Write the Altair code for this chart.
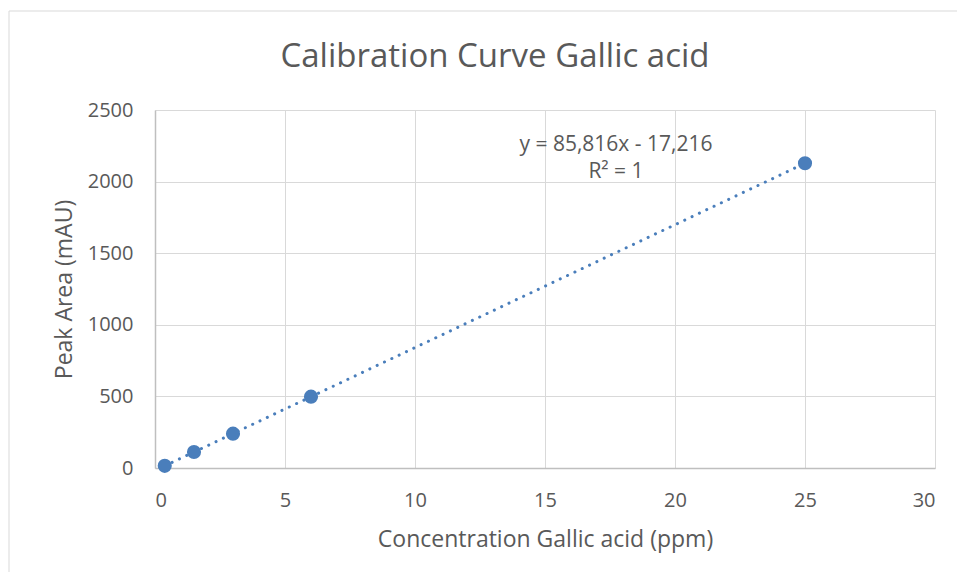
import altair as alt
import pandas as pd

conc = [0.375, 1.5, 3, 6, 25]
area = [15, 112, 240, 498, 2128]

eq_lines = ["y = 85,816x - 17,216", "R² = 1"]
eq_x = [17.73, 17.73]
eq_y = [2256, 2066]

df = pd.DataFrame({"conc": conc, "area": area})
eq_df = pd.DataFrame({"label": eq_lines, "x": eq_x, "y": eq_y})

FONT = "Open Sans"
TXT = "#595959"
BLUE = "#4a7ebb"

xs = alt.Scale(domain=[0, 30], nice=False)
ys = alt.Scale(domain=[0, 2500], nice=False)

base = alt.Chart(df)

points = base.mark_circle(size=200, color=BLUE, opacity=1).encode(
    x=alt.X("conc:Q", scale=xs, axis=alt.Axis(
        title="Concentration Gallic acid (ppm)", values=[0, 5, 10, 15, 20, 25, 30],
        format="d", grid=True, ticks=False, labelPadding=22, titlePadding=18)),
    y=alt.Y("area:Q", scale=ys, axis=alt.Axis(
        title="Peak Area (mAU)", values=[0, 500, 1000, 1500, 2000, 2500],
        format="d", grid=True, ticks=False, labelPadding=22, titlePadding=11)),
)

trend = base.transform_regression(
    "conc", "area", method="linear", extent=[0.375, 25]
).mark_line(color=BLUE, strokeWidth=3, strokeDash=[0.1, 8], strokeCap="round").encode(
    x=alt.X("conc:Q", scale=xs), y=alt.Y("area:Q", scale=ys)
)

eq = alt.Chart(eq_df).mark_text(font=FONT, fontSize=21, color=TXT, align="center", baseline="middle").encode(
    x=alt.X("x:Q", scale=xs), y=alt.Y("y:Q", scale=ys), text="label:N"
)

title = alt.Chart(pd.DataFrame({"t": ["Calibration Curve Gallic acid"]})).mark_text(
    font=FONT, fontSize=33, color=TXT, align="center", baseline="alphabetic"
).encode(x=alt.value(340), y=alt.value(-43), text="t:N")

border_df = pd.DataFrame({"k": [1]})
border_left = alt.Chart(border_df).mark_rule(color="#d9d9d9", strokeWidth=1).encode(
    x=alt.value(-146), y=alt.value(-99), y2=alt.value(470))
border_top = alt.Chart(border_df).mark_rule(color="#d9d9d9", strokeWidth=1).encode(
    x=alt.value(-146), x2=alt.value(810), y=alt.value(-99))

chart = alt.layer(border_left, border_top, title, trend, points, eq).properties(
    width=780, height=358,
    autosize=alt.AutoSizeParams(type="none"),
    padding={"left": 147, "top": 102, "right": 22, "bottom": 104},
).configure_view(stroke=None).configure_axis(
    labelFont=FONT, titleFont=FONT, labelColor=TXT, titleColor=TXT,
    labelFontSize=20, titleFontSize=23, titleFontWeight="normal",
    gridColor="#d9d9d9", gridWidth=1, domainColor="#bfbfbf", domainWidth=1.5,
)

chart.save("out.html", embed_options={"renderer": "svg", "actions": False})
